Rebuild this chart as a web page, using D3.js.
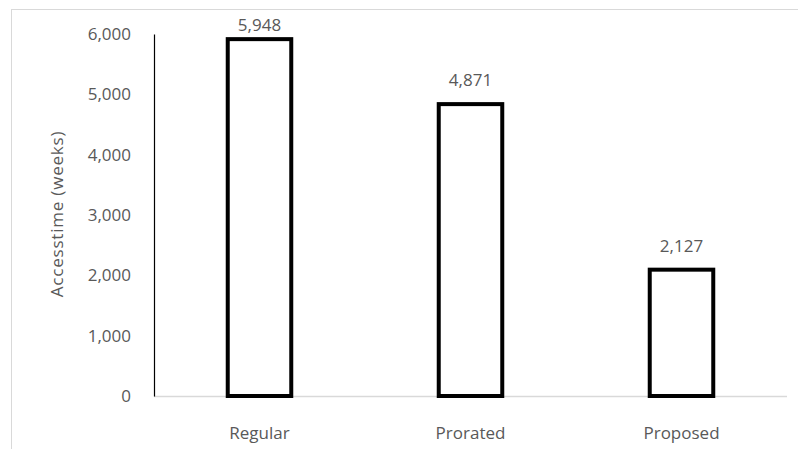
<!DOCTYPE html>
<html><head><meta charset="utf-8">
<script src="https://cdn.jsdelivr.net/npm/d3@7"></script>
<style>body{margin:0;background:#fff}svg{display:block}</style>
</head><body>
<svg id="c" width="798" height="449"></svg>
<script>
const categories = ["Regular", "Prorated", "Proposed"];
const values = [5948, 4871, 2127];
const yTicks = [0, 1000, 2000, 3000, 4000, 5000, 6000];
const yTitle = "Accesstime (weeks)";

const svg = d3.select("#c");
const font = "'Open Sans', 'Liberation Sans', sans-serif";
const grey = "#595959";
const fs = 17;

// outer frame
svg.append("rect").attr("x", 11.5).attr("y", 9.5).attr("width", 800).attr("height", 460)
  .attr("fill", "none").attr("stroke", "#d9d9d9").attr("stroke-width", 1);

const x = d3.scaleBand().domain(categories).range([154, 787]).paddingInner(0.68).paddingOuter(0.34);
const y = d3.scaleLinear().domain([0, 6000]).range([396, 34]);

// baseline
svg.append("line").attr("x1", 154).attr("x2", 787).attr("y1", y(0) + 0.5).attr("y2", y(0) + 0.5)
  .attr("stroke", "#d9d9d9").attr("stroke-width", 1.5);

// y axis
const yAxis = d3.axisLeft(y).tickValues(yTicks).tickSize(0).tickPadding(0).tickFormat(d3.format(","));
const ga = svg.append("g").attr("transform", "translate(154,0)").call(yAxis);
ga.select(".domain").attr("stroke", "#000").attr("stroke-width", 1.2);
ga.selectAll("text").attr("x", -23).attr("font-family", font).attr("font-size", fs).attr("fill", grey);

// x axis labels
const xAxis = d3.axisBottom(x).tickSize(0).tickPadding(0);
const gx = svg.append("g").attr("transform", "translate(0,427)").call(xAxis);
gx.select(".domain").remove();
gx.selectAll("text").attr("font-family", font).attr("font-size", fs).attr("fill", grey);

// bars
svg.selectAll("rect.bar").data(values).join("rect").attr("class", "bar")
  .attr("x", (d, i) => x(categories[i]) + 2)
  .attr("width", x.bandwidth() - 4)
  .attr("y", d => y(d) + 2)
  .attr("height", d => y(0) - y(d) - 2)
  .attr("fill", "#fff").attr("stroke", "#000").attr("stroke-width", 4);

// value labels
svg.selectAll("text.val").data(values).join("text").attr("class", "val")
  .attr("x", (d, i) => x(categories[i]) + x.bandwidth() / 2)
  .attr("y", d => Math.max(y(d) - 16, 31))
  .attr("text-anchor", "middle")
  .attr("font-family", font).attr("font-size", fs).attr("fill", grey)
  .text(d => d3.format(",")(d));

// y title
svg.append("text").attr("transform", "translate(63,214) rotate(-90)")
  .attr("text-anchor", "middle").attr("font-family", font).attr("font-size", fs).attr("fill", grey)
  .attr("letter-spacing", 0.8)
  .text(yTitle);
</script>
</body></html>
